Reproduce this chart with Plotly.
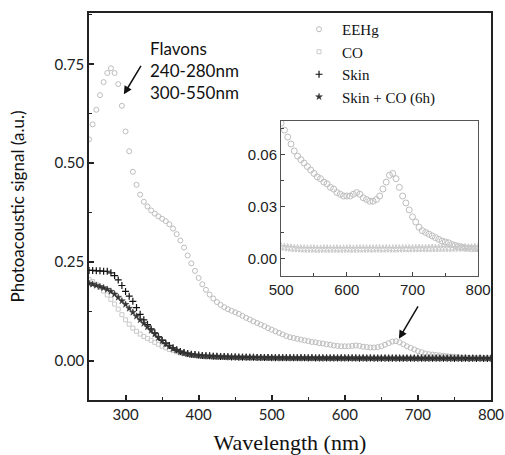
import plotly.graph_objects as go

# wavelengths (nm), 5 nm step
wavelength = list(range(250, 805, 5))

eehg = [
    0.560, 0.598, 0.635, 0.672, 0.705, 0.728, 0.740, 0.728, 0.700, 0.645,   # 250-295
    0.580, 0.530, 0.478, 0.445, 0.420, 0.402, 0.390, 0.380, 0.372, 0.365,   # 300-345
    0.359, 0.353, 0.345, 0.334, 0.320, 0.304, 0.286, 0.266, 0.246, 0.227,   # 350-395
    0.209, 0.193, 0.179, 0.167, 0.157, 0.148, 0.141, 0.135, 0.130, 0.126,   # 400-445
    0.122, 0.118, 0.113, 0.108, 0.104, 0.099, 0.095, 0.091, 0.087, 0.082,   # 450-495
    0.078, 0.074, 0.070, 0.066, 0.062, 0.059, 0.057, 0.055, 0.053, 0.051,   # 500-545
    0.049, 0.047, 0.046, 0.044, 0.043, 0.041, 0.040, 0.038, 0.037, 0.036,   # 550-595
    0.036, 0.036, 0.037, 0.038, 0.037, 0.035, 0.034, 0.033, 0.033, 0.034,   # 600-645
    0.036, 0.040, 0.044, 0.048, 0.049, 0.046, 0.041, 0.036, 0.032, 0.028,   # 650-695
    0.024, 0.021, 0.018, 0.016, 0.015, 0.014, 0.013, 0.012, 0.011, 0.010,   # 700-745
    0.0095, 0.009, 0.008, 0.0075, 0.007, 0.0065, 0.006, 0.006, 0.0058, 0.0057,  # 750-795
    0.0056,                                                                   # 800
]

co = [
    0.205, 0.200, 0.193, 0.185, 0.176, 0.166, 0.155, 0.143, 0.130, 0.116,
    0.103, 0.092, 0.082, 0.074, 0.067, 0.061, 0.056, 0.051, 0.046, 0.041,
    0.036, 0.032, 0.028, 0.025, 0.022, 0.019, 0.017, 0.015, 0.013, 0.012,
    0.011, 0.010, 0.0098, 0.0095, 0.0092, 0.009, 0.0088, 0.0085, 0.0082, 0.008,
    0.0078, 0.0076, 0.0074, 0.0072, 0.0071, 0.007, 0.0069, 0.0068, 0.0068, 0.0067,
    0.0067, 0.0065, 0.0062, 0.006, 0.0058, 0.0057, 0.0056, 0.0055, 0.0055, 0.0055,
    0.0055, 0.0054, 0.0054, 0.0055, 0.0055, 0.0054, 0.0055, 0.0055, 0.0054, 0.0055,
    0.0055, 0.0055, 0.0054, 0.0055, 0.0055, 0.0055, 0.0056, 0.0055, 0.0055, 0.0056,
    0.0056, 0.0055, 0.0056, 0.0056, 0.0055, 0.0056, 0.0056, 0.0057, 0.0056, 0.0057,
    0.0057, 0.0057, 0.0058, 0.0057, 0.0058, 0.0058, 0.0059, 0.0058, 0.0059, 0.006,
    0.006, 0.0059, 0.006, 0.0061, 0.006, 0.0061, 0.0062, 0.006, 0.0061, 0.0062,
    0.0062,
]

skin = [
    0.228, 0.228, 0.227, 0.227, 0.226, 0.226, 0.222, 0.215, 0.204, 0.190,
    0.175, 0.163, 0.150, 0.134, 0.117, 0.103, 0.091, 0.080, 0.070, 0.060,
    0.051, 0.044, 0.038, 0.032, 0.027, 0.023, 0.020, 0.018, 0.016, 0.015,
    0.014, 0.013, 0.012, 0.012, 0.011, 0.011, 0.010, 0.010, 0.0095, 0.009,
    0.009, 0.0085, 0.0085, 0.008, 0.008, 0.008, 0.0078, 0.0076, 0.0075, 0.0074,
    0.0073, 0.0072, 0.007, 0.0071, 0.0069, 0.007, 0.0068, 0.0069, 0.0067, 0.0068,
    0.0066, 0.0067, 0.0065, 0.0066, 0.0064, 0.0066, 0.0063, 0.0065, 0.0062, 0.0064,
    0.0062, 0.0063, 0.0061, 0.0062, 0.006, 0.0062, 0.006, 0.0061, 0.0059, 0.006,
    0.0059, 0.006, 0.0058, 0.006, 0.0058, 0.0059, 0.0057, 0.0059, 0.0057, 0.0058,
    0.0056, 0.0058, 0.0056, 0.0057, 0.0055, 0.0057, 0.0055, 0.0056, 0.0055, 0.0056,
    0.0054, 0.0056, 0.0054, 0.0055, 0.0054, 0.0055, 0.0053, 0.0055, 0.0053, 0.0054,
    0.0053,
]

skin_co = [
    0.195, 0.193, 0.190, 0.187, 0.184, 0.180, 0.175, 0.168, 0.160, 0.151,
    0.142, 0.132, 0.122, 0.112, 0.103, 0.094, 0.085, 0.076, 0.067, 0.058,
    0.050, 0.042, 0.036, 0.030, 0.026, 0.022, 0.019, 0.017, 0.015, 0.014,
    0.013, 0.012, 0.0115, 0.011, 0.0105, 0.010, 0.0098, 0.0095, 0.0092, 0.009,
    0.0088, 0.0086, 0.0084, 0.0082, 0.008, 0.0079, 0.0077, 0.0076, 0.0075, 0.0074,
    0.0072, 0.0073, 0.0071, 0.0072, 0.007, 0.0071, 0.0069, 0.007, 0.0068, 0.0069,
    0.0067, 0.0068, 0.0066, 0.0068, 0.0066, 0.0067, 0.0065, 0.0067, 0.0065, 0.0066,
    0.0064, 0.0066, 0.0064, 0.0065, 0.0063, 0.0065, 0.0063, 0.0064, 0.0062, 0.0064,
    0.0062, 0.0063, 0.0061, 0.0063, 0.0061, 0.0062, 0.006, 0.0062, 0.006, 0.0061,
    0.006, 0.0061, 0.0059, 0.0061, 0.0059, 0.006, 0.0059, 0.006, 0.0058, 0.006,
    0.0058, 0.0059, 0.0058, 0.0059, 0.0057, 0.0059, 0.0057, 0.0058, 0.0057, 0.0058,
    0.0057,
]

inset_lo = 500
inset_x = [w for w in wavelength if w >= inset_lo]
inset_eehg = [v for w, v in zip(wavelength, eehg) if w >= inset_lo]
inset_co = [v for w, v in zip(wavelength, co) if w >= inset_lo]

LIGHT = "#bdbdbd"
LIGHT2 = "#cacaca"

fig = go.Figure()

fig.add_trace(go.Scatter(x=wavelength, y=eehg, mode="markers", name="EEHg",
                         marker=dict(symbol="circle-open", size=5, color=LIGHT, line=dict(width=1, color=LIGHT))))
fig.add_trace(go.Scatter(x=wavelength, y=co, mode="markers", name="CO",
                         marker=dict(symbol="square-open", size=4, color=LIGHT2, line=dict(width=1, color=LIGHT2))))
fig.add_trace(go.Scatter(x=wavelength, y=skin, mode="markers", name="Skin",
                         marker=dict(symbol="cross-thin", size=5, color="#111", line=dict(width=1.2, color="#111"))))
fig.add_trace(go.Scatter(x=wavelength, y=skin_co, mode="markers", name="Skin + CO (6h)",
                         marker=dict(symbol="star", size=5, color="#333", line=dict(width=0.5, color="#333"))))

# inset traces
fig.add_trace(go.Scatter(x=inset_x, y=inset_eehg, mode="markers", showlegend=False,
                         xaxis="x2", yaxis="y2",
                         marker=dict(symbol="circle-open", size=6, color=LIGHT, line=dict(width=1, color=LIGHT))))
fig.add_trace(go.Scatter(x=inset_x, y=inset_co, mode="markers", showlegend=False,
                         xaxis="x2", yaxis="y2",
                         marker=dict(symbol="star-open", size=6, color=LIGHT2, line=dict(width=1, color=LIGHT2))))

TICKFONT = dict(family="Lato, Open Sans, sans-serif", size=15, color="#222")
INSETFONT = dict(family="Liberation Sans, Arial, sans-serif", size=15, color="#222")

fig.update_layout(
    width=505, height=455,
    margin=dict(l=89, r=14, t=13, b=55, autoexpand=False),
    paper_bgcolor="white", plot_bgcolor="white",
    showlegend=True,
    legend=dict(x=0.515, y=1.0, xanchor="left", yanchor="top",
                font=dict(family="Liberation Serif, serif", size=15, color="#111"),
                bgcolor="rgba(0,0,0,0)", tracegroupgap=0, itemwidth=36),
    xaxis=dict(range=[250, 800], dtick=100, tick0=300, ticks="inside", ticklen=5, tickwidth=1.5,
               tickcolor="#222", showline=True, linecolor="#222", linewidth=1.5, mirror=True,
               showgrid=False, zeroline=False, tickfont=TICKFONT, automargin=False,
               minor=dict(dtick=50, ticks="inside", ticklen=3, tickwidth=1.2, tickcolor="#222"),
               title=dict(text="Wavelength (nm)", standoff=14,
                          font=dict(family="Liberation Serif, serif", size=22, color="#111"))),
    yaxis=dict(range=[-0.1, 0.88], dtick=0.25, tick0=0, tickformat=".2f", ticks="inside", ticklen=5,
               tickwidth=1.5, tickcolor="#222", showline=True, linecolor="#222", linewidth=1.5,
               mirror=True, showgrid=False, zeroline=False, tickfont=TICKFONT, automargin=False,
               minor=dict(dtick=0.125, ticks="inside", ticklen=3, tickwidth=1.2, tickcolor="#222"),
               title=dict(text="Photoacoustic signal (a.u.)", standoff=26,
                          font=dict(family="Lato, Open Sans, sans-serif", size=17, color="#111"))),
    xaxis2=dict(domain=[0.478, 0.968], anchor="y2", range=[500, 800], dtick=100,
                ticks="inside", ticklen=4, tickwidth=1.2, tickcolor="#444", automargin=False,
                showline=True, linecolor="#555", linewidth=1.3, mirror=True,
                showgrid=False, zeroline=False, tickfont=INSETFONT,
                minor=dict(dtick=50, ticks="inside", ticklen=3, tickcolor="#444")),
    yaxis2=dict(domain=[0.321, 0.722], anchor="x2", range=[-0.01, 0.0795], dtick=0.03, tick0=0,
                tickformat=".2f", ticks="inside", ticklen=4, tickwidth=1.2, tickcolor="#444",
                showline=True, linecolor="#555", linewidth=1.3, mirror=True, automargin=False,
                showgrid=False, zeroline=False, tickfont=INSETFONT,
                minor=dict(dtick=0.015, ticks="inside", ticklen=3, tickcolor="#444")),
)

fig.add_annotation(x=330.5, y=0.7355, xref="x", yref="y", text="Flavons<br>240-280nm<br>300-550nm",
                   showarrow=False, xanchor="left", yanchor="middle", align="left",
                   font=dict(family="Lato, Open Sans, sans-serif", size=17, color="#111"))
fig.add_annotation(x=297.7, y=0.674, xref="x", yref="y", ax=18, ay=-30, text="",
                   showarrow=True, arrowhead=2, arrowsize=1.1, arrowwidth=1.5, arrowcolor="#111")
fig.add_annotation(x=674, y=0.055, xref="x", yref="y", ax=20, ay=-34, text="",
                   showarrow=True, arrowhead=2, arrowsize=1.1, arrowwidth=1.5, arrowcolor="#111")

fig.write_html("out.html", config={"displayModeBar": False},
               post_script="document.body.style.margin='0px';")
